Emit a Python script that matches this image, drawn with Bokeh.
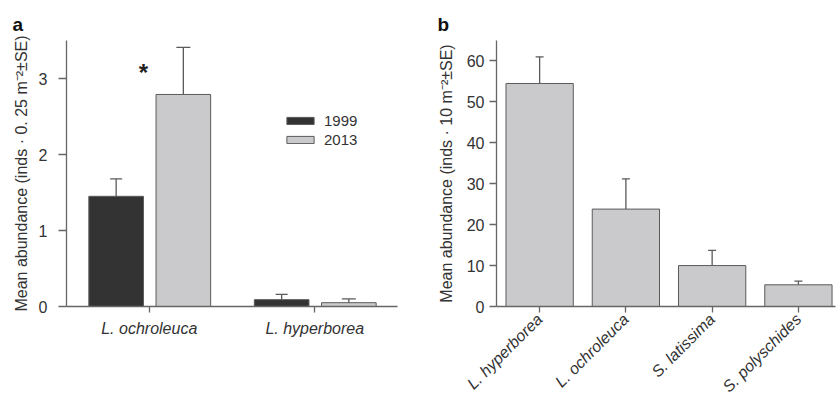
import math
from bokeh.plotting import figure
from bokeh.models import ColumnDataSource, Whisker, TeeHead, Range1d, FixedTicker, FactorRange
from bokeh.transform import dodge
from bokeh.layouts import row
from bokeh.embed import file_html
from bokeh.resources import INLINE

# ---- data panel a ----
a_species = ["L. ochroleuca", "L. hyperborea"]
a_mean_1999 = [1.45, 0.09]
a_se_1999 = [0.23, 0.07]
a_mean_2013 = [2.79, 0.05]
a_se_2013 = [0.62, 0.05]
a_years = ["1999", "2013"]
a_yticks = [0, 1, 2, 3]
a_star_y = 3.08

# ---- data panel b ----
b_species = ["L. hyperborea", "L. ochroleuca", "S. latissima", "S. polyschides"]
b_mean = [54.5, 23.8, 10.0, 5.3]
b_se = [6.5, 7.4, 3.7, 0.9]
b_yticks = [0, 10, 20, 30, 40, 50, 60]

FONT = "Liberation Sans"
DARK = "#333333"
LIGHT = "#cacacc"
EDGE = "#5a5a5a"
AXC = "#666666"
TXT = "#333333"


def style(p, panel, offset):
    p.xgrid.visible = False
    p.ygrid.visible = False
    p.outline_line_color = None
    p.title.text = panel
    p.title.text_font = FONT
    p.title.text_font_size = "19px"
    p.title.text_font_style = "bold"
    p.title.text_color = "#111111"
    p.title.align = "left"
    p.title.offset = offset
    p.title.standoff = 12
    for ax in (p.xaxis, p.yaxis):
        ax.axis_line_color = AXC
        ax.axis_line_width = 1.3
        ax.major_tick_line_color = AXC
        ax.major_tick_line_width = 1.3
        ax.major_tick_out = 6
        ax.major_tick_in = 0
        ax.minor_tick_line_color = None
        ax.major_label_text_font = FONT
        ax.major_label_text_font_size = "16px"
        ax.major_label_text_color = TXT
        ax.axis_label_text_font = FONT
        ax.axis_label_text_font_size = "16px"
        ax.axis_label_text_font_style = "normal"
        ax.axis_label_text_color = TXT


# ---------------- panel a ----------------
src_a = ColumnDataSource(dict(
    cat=a_species,
    m99=a_mean_1999,
    u99=[m + s for m, s in zip(a_mean_1999, a_se_1999)],
    m13=a_mean_2013,
    u13=[m + s for m, s in zip(a_mean_2013, a_se_2013)],
))

pa = figure(x_range=FactorRange(*a_species, range_padding=0), y_range=Range1d(0, 3.5),
            width=420, height=404, output_backend="svg", toolbar_location=None,
            min_border_left=66, min_border_right=23, min_border_top=40, min_border_bottom=95)
style(pa, "a", -54)

pa.vbar(x=dodge("cat", -0.2, range=pa.x_range), top="m99", width=0.33, source=src_a,
        fill_color=DARK, line_color=EDGE, line_width=1, legend_label=a_years[0])
pa.vbar(x=dodge("cat", 0.206, range=pa.x_range), top="m13", width=0.33, source=src_a,
        fill_color=LIGHT, line_color=EDGE, line_width=1, legend_label=a_years[1])

for off, lo, up, cap in ((-0.2, "m99", "u99", 12), (0.206, "m13", "u13", 14)):
    w = Whisker(source=src_a, base=dodge("cat", off, range=pa.x_range), lower=lo, upper=up,
                dimension="height", line_color=EDGE, line_width=1.3,
                upper_head=TeeHead(size=cap, line_color=EDGE, line_width=1.3), lower_head=None)
    pa.add_layout(w)

star_src = ColumnDataSource(dict(cat=[a_species[0]], y=[a_star_y], t=["*"]))
pa.text(x=dodge("cat", -0.035, range=pa.x_range), y="y", text="t", source=star_src,
        text_font_size="24px", text_font_style="bold", text_align="center",
        text_baseline="middle", text_color="#222222")

pa.yaxis.ticker = FixedTicker(ticks=a_yticks)
pa.yaxis.axis_label = "Mean abundance (inds · 0. 25 m⁻²±SE)"
pa.yaxis.major_tick_out = 8
pa.yaxis.major_label_standoff = 11
pa.yaxis.axis_label_standoff = 6
pa.xaxis.major_label_text_font_style = "italic"
pa.xaxis.major_label_text_font_size = "16px"
pa.xaxis.major_label_standoff = 7

lg = pa.legend[0]
lg.location = (217, 157)
lg.glyph_width = 34
lg.glyph_height = 9
lg.label_standoff = 7
lg.padding = 0
lg.margin = 0
lg.spacing = 0
lg.label_height = 19
lg.border_line_alpha = 0
lg.background_fill_alpha = 0
lg.label_text_font = FONT
lg.label_text_font_size = "15px"
lg.label_text_color = TXT

# ---------------- panel b ----------------
b_x = list(range(1, len(b_species) + 1))
src_b = ColumnDataSource(dict(x=b_x, m=b_mean, u=[m + s for m, s in zip(b_mean, b_se)]))

pb = figure(x_range=Range1d(0.5, 4.43), y_range=Range1d(0, 65),
            width=416, height=404, output_backend="svg", toolbar_location=None,
            min_border_left=76, min_border_right=1, min_border_top=40, min_border_bottom=95)
style(pb, "b", -59)
pb.vbar(x="x", top="m", width=0.78, source=src_b, fill_color=LIGHT, line_color=EDGE, line_width=1)
pb.add_layout(Whisker(source=src_b, base="x", lower="m", upper="u", dimension="height",
                      line_color=EDGE, line_width=1.3,
                      upper_head=TeeHead(size=8, line_color=EDGE, line_width=1.3), lower_head=None))

pb.yaxis.ticker = FixedTicker(ticks=b_yticks)
pb.yaxis.axis_label = "Mean abundance (inds · 10 m⁻²±SE)"
pb.yaxis.major_tick_out = 7
pb.yaxis.major_label_standoff = 5
pb.yaxis.axis_label_standoff = 9
pb.xaxis.ticker = FixedTicker(ticks=b_x)
pb.xaxis.major_label_overrides = {x: s for x, s in zip(b_x, b_species)}
pb.xaxis.major_label_orientation = math.pi / 4
pb.xaxis.major_label_text_font_style = "italic"
pb.xaxis.major_label_text_font_size = "16px"
pb.xaxis.major_label_standoff = 4

layout = row(pa, pb)
open("out.html", "w").write(file_html(layout, INLINE))
